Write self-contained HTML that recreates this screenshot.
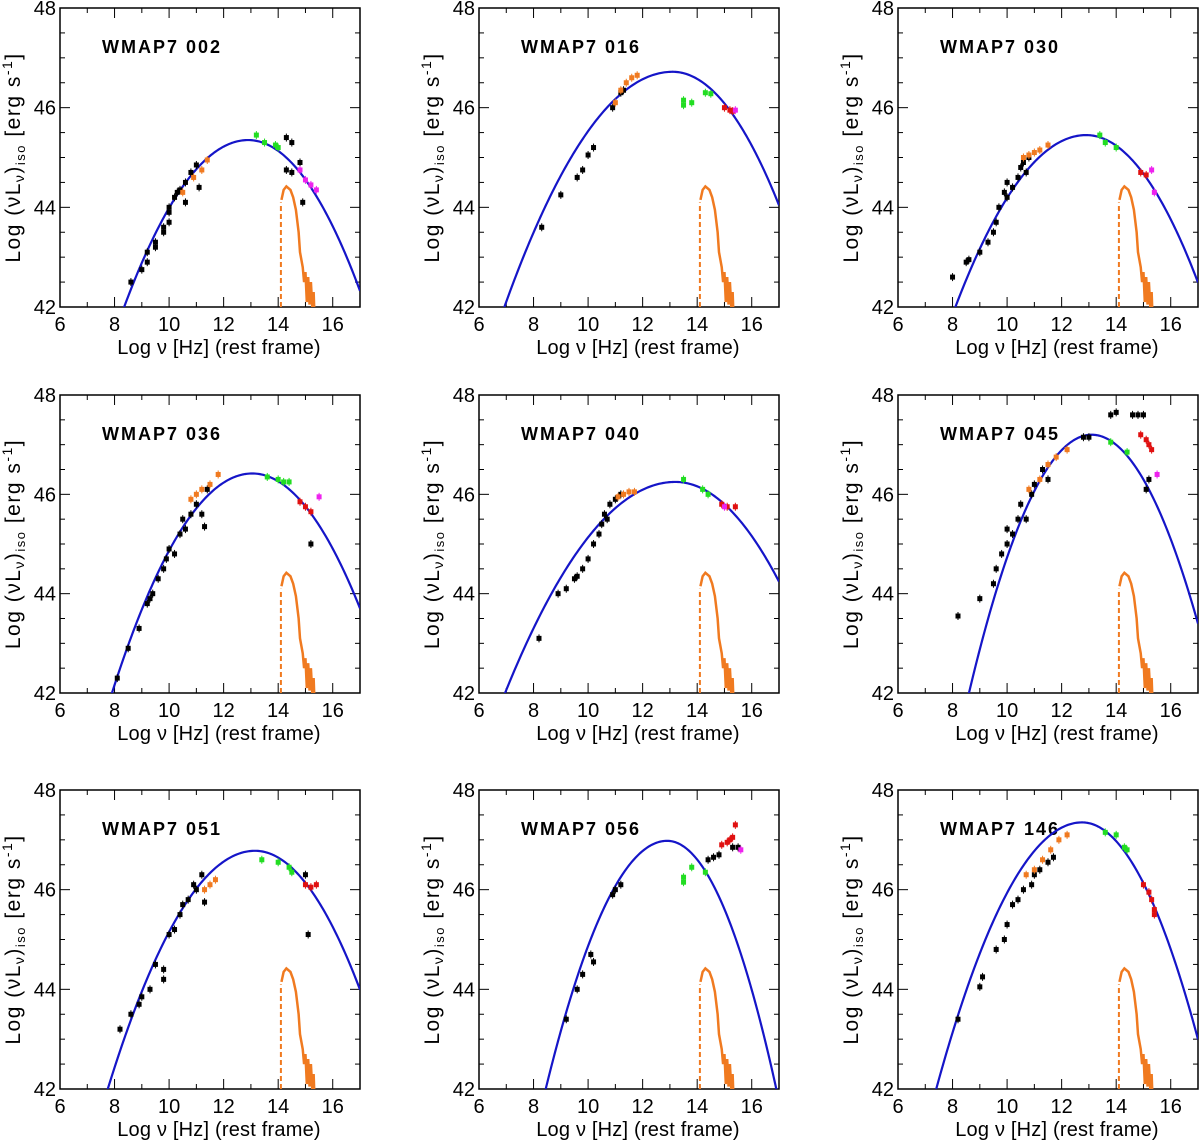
<!DOCTYPE html>
<html><head><meta charset="utf-8"><style>
html,body{margin:0;background:#fff;overflow:hidden;width:1200px;height:1145px;}
svg{display:block;}
text{font-family:"Liberation Sans",sans-serif;fill:#000;}
</style></head><body>
<svg id="fig" width="1200" height="1145"></svg>
<script>
const panelNames=["WMAP7 002","WMAP7 016","WMAP7 030","WMAP7 036","WMAP7 040","WMAP7 045","WMAP7 051","WMAP7 056","WMAP7 146"];
const peakX=[12.9,13.1,12.9,13.05,13.2,13.1,13.15,12.9,12.75];
const peakY=[45.35,46.72,45.45,46.42,46.25,47.2,46.78,46.98,47.35];
const curvL=[0.162,0.124,0.15,0.167,0.109,0.257,0.164,0.251,0.187];
const curvR=[0.18,0.176,0.176,0.174,0.139,0.25,0.188,0.311,0.241];
const xTicks=[6,8,10,12,14,16];
const yTicks=[42,44,46,48];
const diskDashed=[[14.1,42],[14.1,44.1]];
const diskCurve=[[14.12,44.15],[14.2,44.35],[14.3,44.42],[14.45,44.35],[14.55,44.2],[14.65,43.95],[14.75,43.5],[14.8,43.1],[14.9,42.8],[14.95,42.5],[15.0,42.7],[15.05,42.1],[15.1,42.6],[15.15,42.05],[15.2,42.5],[15.25,42.0],[15.3,42.3],[15.32,42.0]];
const blackPts=[
[[8.6,42.5],[9,42.75],[9.2,43.1],[9.2,42.9],[9.5,43.2],[9.5,43.3],[9.8,43.6],[9.8,43.5],[10,43.9],[10,43.7],[10,44],[10.2,44.2],[10.3,44.3],[10.4,44.35],[10.6,44.1],[10.6,44.5],[10.8,44.7],[11,44.85],[11.1,44.4],[14.3,45.4],[14.5,45.3],[14.3,44.75],[14.5,44.7],[14.8,44.9],[14.9,44.1]],
[[8.3,43.6],[9,44.25],[9.6,44.6],[9.8,44.75],[10,45.05],[10.2,45.2],[10.9,46],[11.2,46.3],[11.3,46.35]],
[[8,42.6],[8.5,42.9],[8.6,42.95],[9,43.1],[9.3,43.3],[9.5,43.5],[9.6,43.7],[9.7,44],[9.9,44.3],[10,44.5],[10,44.2],[10.2,44.4],[10.4,44.6],[10.5,44.8],[10.6,44.9],[10.7,44.7],[10.8,45]],
[[8.1,42.3],[8.5,42.9],[8.9,43.3],[9.2,43.8],[9.3,43.9],[9.4,44],[9.6,44.3],[9.8,44.5],[9.9,44.7],[10,44.9],[10.2,44.8],[10.4,45.2],[10.5,45.5],[10.6,45.3],[10.8,45.6],[11,45.8],[11.2,45.6],[11.3,45.35],[11.4,46.1],[15.2,45.0]],
[[8.2,43.1],[8.9,44.0],[9.2,44.1],[9.5,44.3],[9.6,44.35],[9.8,44.5],[10,44.7],[10.2,45],[10.4,45.2],[10.5,45.4],[10.6,45.6],[10.7,45.5],[10.8,45.8],[11,45.9],[11.2,46]],
[[8.2,43.55],[9,43.9],[9.5,44.2],[9.6,44.5],[9.8,44.8],[10,45],[10,45.3],[10.2,45.2],[10.4,45.5],[10.5,45.8],[10.7,45.5],[10.9,46],[11,46.2],[11.3,46.5],[11.5,46.3],[12.8,47.15],[13,47.15],[13.8,47.6],[14,47.65],[14.6,47.6],[14.8,47.6],[15,47.6],[15.1,46.1],[15.2,46.3]],
[[8.2,43.2],[8.6,43.5],[8.9,43.7],[9,43.85],[9.3,44.0],[9.5,44.5],[9.8,44.4],[9.8,44.2],[10,45.1],[10.2,45.2],[10.4,45.5],[10.5,45.7],[10.7,45.8],[10.9,46.1],[11,46],[11.2,46.3],[11.3,45.75],[15.1,45.1],[15.0,46.3]],
[[9.2,43.4],[9.6,44],[9.8,44.3],[10.1,44.7],[10.2,44.55],[10.9,45.9],[11.0,46],[11.2,46.1],[14.4,46.6],[14.6,46.65],[14.8,46.7],[15.3,46.85],[15.5,46.85]],
[[8.2,43.4],[9,44.05],[9.1,44.25],[9.6,44.8],[9.9,45],[10,45.3],[10.2,45.7],[10.4,45.8],[10.6,46],[10.9,46.1],[11,46.3],[11.2,46.4],[11.5,46.55],[11.7,46.65]]];
const orangePts=[
[[10.5,44.3],[10.9,44.6],[11.2,44.75],[11.4,44.95]],
[[11,46.1],[11.2,46.35],[11.4,46.5],[11.6,46.6],[11.8,46.65]],
[[10.6,45],[10.8,45.05],[11,45.1],[11.2,45.15],[11.5,45.25]],
[[10.8,45.9],[11,46],[11.2,46.1],[11.5,46.2],[11.8,46.4]],
[[11.1,45.95],[11.3,46],[11.5,46.05],[11.7,46.05]],
[[10.8,46.1],[11.2,46.3],[11.5,46.6],[11.8,46.75],[12.2,46.9]],
[[11.3,46],[11.5,46.1],[11.7,46.2]],
[],
[[10.7,46.3],[11,46.4],[11.3,46.6],[11.6,46.8],[11.9,47],[12.2,47.1]]];
const greenPts=[
[[13.2,45.45],[13.5,45.3],[13.9,45.25],[14,45.2]],
[[13.5,46.15],[13.5,46.05],[13.8,46.1],[14.3,46.3],[14.5,46.28]],
[[13.4,45.45],[13.6,45.3],[14,45.2]],
[[13.6,46.35],[14,46.3],[14.2,46.25],[14.4,46.25]],
[[13.5,46.3],[14.2,46.1],[14.4,46]],
[[13.8,47.05],[14.4,46.85]],
[[13.4,46.6],[14,46.55],[14.4,46.45],[14.5,46.35]],
[[13.5,46.25],[13.5,46.15],[13.8,46.45],[14.3,46.35]],
[[13.6,47.15],[14,47.1],[14.3,46.85],[14.4,46.8]]];
const redPts=[
[],
[[15,46],[15.2,45.95],[15.3,45.93]],
[[14.9,44.7],[15.1,44.65]],
[[14.8,45.85],[15,45.75],[15.2,45.65]],
[[14.9,45.8],[15.1,45.75],[15.4,45.75]],
[[14.9,47.2],[15.1,47.1],[15.3,46.9],[15.2,47.0]],
[[15,46.1],[15.2,46.05],[15.4,46.1]],
[[14.9,46.9],[15.1,46.95],[15.3,47.05],[15.4,47.3],[15.2,47.0]],
[[15,46.1],[15.2,45.95],[15.3,45.8],[15.4,45.5],[15.4,45.6]]];
const magentaPts=[
[[14.8,44.75],[15,44.55],[15.2,44.45],[15.4,44.35]],
[[15.4,45.95]],
[[15.3,44.75],[15.4,44.3]],
[[15.5,45.95]],
[[15.0,45.75]],
[[15.5,46.4]],
[],
[[15.6,46.8]],
[]];

const NS="http://www.w3.org/2000/svg";
const svg=document.getElementById('fig');
function mk(tag,attrs,parent){const e=document.createElementNS(NS,tag);for(const k in attrs)e.setAttribute(k,attrs[k]);parent.appendChild(e);return e;}
const colL=[60,479,898], rowT=[8,395,790], rowB=[307,693,1089], W=300;
const X0=6,X1=17,Y0=42,Y1=48;
for(let p=0;p<9;p++){
  const left=colL[p%3], top=rowT[Math.floor(p/3)], bot=rowB[Math.floor(p/3)];
  const H=bot-top;
  const sx=v=>left+(v-X0)/(X1-X0)*W;
  const sy=v=>bot-(v-Y0)/(Y1-Y0)*H;
  const g=mk('g',{},svg);
  
  
  const clipId='c'+p;
  const cp=mk('clipPath',{id:clipId},g);mk('rect',{x:left,y:top,width:W,height:H},cp);
  for(let v=6;v<=17;v++){const L=v%2===0?10:5;
    mk('line',{x1:sx(v),x2:sx(v),y1:bot,y2:bot-L,stroke:'#000','stroke-width':1},g);
    mk('line',{x1:sx(v),x2:sx(v),y1:top,y2:top+L,stroke:'#000','stroke-width':1},g);}
  for(let v=42;v<=48;v+=0.5){const L=(v%2===0)?10:5;
    mk('line',{x1:left,x2:left+L,y1:sy(v),y2:sy(v),stroke:'#000','stroke-width':1},g);
    mk('line',{x1:left+W,x2:left+W-L,y1:sy(v),y2:sy(v),stroke:'#000','stroke-width':1},g);}
  const fr=mk('rect',{x:left,y:top,width:W,height:H,fill:'none',stroke:'#000','stroke-width':1.5},g);
  
  xTicks.forEach(v=>{const t=mk('text',{x:sx(v),y:bot+24,'text-anchor':'middle','font-size':20},g);t.textContent=v;
    });
  yTicks.forEach(v=>{const t=mk('text',{x:left-4,y:sy(v)+7,'text-anchor':'end','font-size':20},g);t.textContent=v;
    });
  const xl=mk('text',{x:left+W/2+9,y:bot+47,'text-anchor':'middle','font-size':20,'letter-spacing':'0.2'},g);
  xl.textContent='Log ν [Hz] (rest frame)';
  
  const yl=mk('text',{x:0,y:0,'text-anchor':'middle','font-size':21,'letter-spacing':'1.5',transform:`translate(${left-40},${top+H/2}) rotate(-90)`},g);
  yl.innerHTML='Log (νL<tspan font-size="14" dy="4">ν</tspan><tspan dy="-4">)</tspan><tspan font-size="13" dy="5">iso</tspan><tspan dy="-5"> [erg s</tspan><tspan font-size="14" dy="-8">-1</tspan><tspan dy="8">]</tspan>';
  
  const ti=mk('text',{x:left+42,y:top+45,'font-size':18,'font-weight':'bold','letter-spacing':'2'},g);
  ti.textContent=panelNames[p];
  
  const pg=mk('g',{'clip-path':`url(#${clipId})`},g);
  const dd=mk('polyline',{points:diskDashed.map(d=>sx(d[0])+','+sy(d[1])).join(' '),fill:'none',stroke:'#f07a20','stroke-width':2,'stroke-dasharray':'5,3'},pg);
  
  const dc=mk('polyline',{points:diskCurve.map(d=>sx(d[0])+','+sy(d[1])).join(' '),fill:'none',stroke:'#f07a20','stroke-width':2.5},pg);
  
  let pts=[];
  for(let x=6;x<=17.001;x+=0.05){const a=x<peakX[p]?curvL[p]:curvR[p];const y=peakY[p]-a*(x-peakX[p])**2;pts.push(sx(x)+','+sy(y));}
  const mc=mk('polyline',{points:pts.join(' '),fill:'none',stroke:'#1515c8','stroke-width':2.2},pg);
  
  const sets=[[blackPts,'#000','black-data-point'],[orangePts,'#f07a20','orange-data-point'],[greenPts,'#22dd22','green-data-point'],[redPts,'#e01010','red-data-point'],[magentaPts,'#ee22ee','magenta-data-point']];
  sets.forEach(([arr,col,nm])=>{arr[p].forEach(d=>{
    const cx=sx(d[0]),cy=sy(d[1]);
    const r=mk('rect',{x:cx-2.5,y:cy-2.5,width:5,height:5,fill:col},pg);
    
    mk('line',{x1:cx,x2:cx,y1:cy-4,y2:cy+4,stroke:col,'stroke-width':1},pg);
  });});
}
</script>
</body></html>
